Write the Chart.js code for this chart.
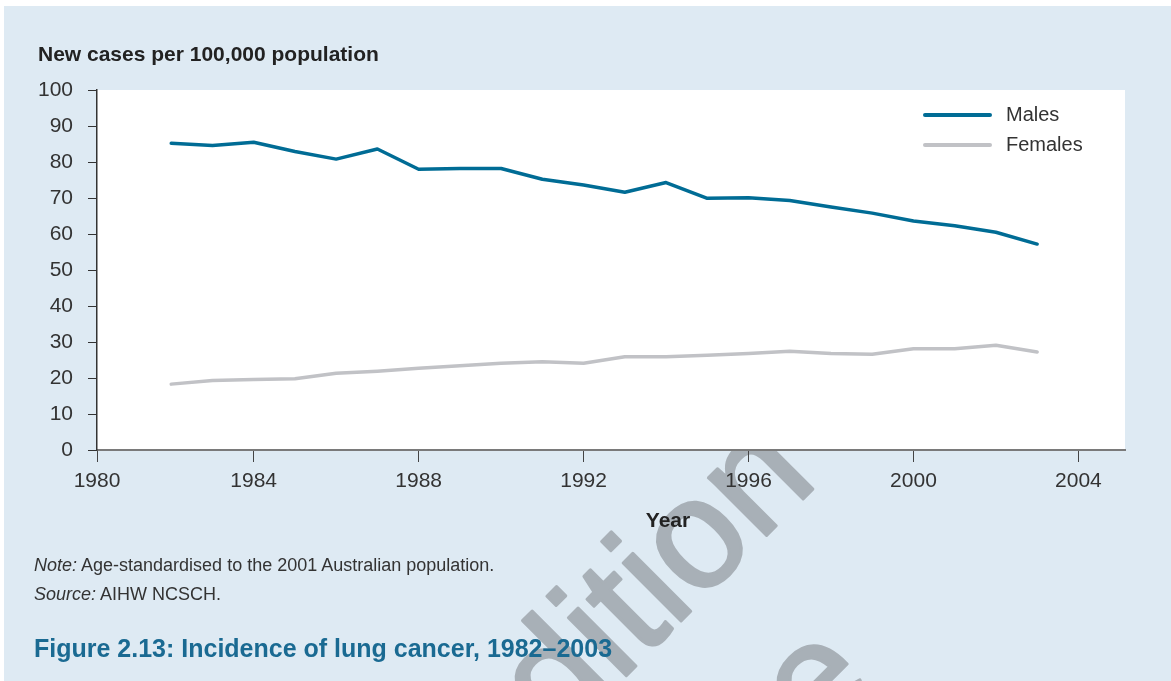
<!DOCTYPE html>
<html>
<head>
<meta charset="utf-8">
<script src="https://cdn.jsdelivr.net/npm/chart.js@4/dist/chart.umd.min.js"></script>
<style>
  html,body{margin:0;padding:0;background:#fff;width:1171px;height:681px;overflow:hidden;font-family:"Liberation Sans",Arial,Helvetica,sans-serif;}
  #panel{position:absolute;left:4px;top:6px;width:1167px;height:675px;background:#deeaf3;}
  #c{position:absolute;left:0;top:0;}
  .t{position:absolute;white-space:nowrap;color:#2b2b2b;}
  #ytitle{left:38px;top:42px;font-size:21px;font-weight:bold;color:#222;}
  #xtitle{left:668px;top:508px;transform:translateX(-50%);font-size:21px;font-weight:bold;color:#222;}
  #note{left:34px;top:555px;font-size:18px;color:#333;}
  #source{left:34px;top:584px;font-size:18px;color:#333;}
  #figtitle{left:34px;top:634px;font-size:25px;font-weight:bold;color:#1a6a92;}
  .lg{position:absolute;left:923px;width:69px;height:4px;border-radius:2px;}
  .lgt{position:absolute;left:1006px;font-size:20px;color:#333;}
</style>
</head>
<body>
<div id="panel"></div>
<canvas id="c" width="1171" height="681"></canvas>
<div class="t" id="ytitle">New cases per 100,000 population</div>
<div class="t" id="xtitle">Year</div>
<div class="t" id="note"><i>Note:</i> Age-standardised to the 2001 Australian population.</div>
<div class="t" id="source"><i>Source:</i> AIHW NCSCH.</div>
<div class="t" id="figtitle">Figure 2.13: Incidence of lung cancer, 1982–2003</div>
<div id="legend"></div>
<script>
const years = [1982,1983,1984,1985,1986,1987,1988,1989,1990,1991,1992,1993,1994,1995,1996,1997,1998,1999,2000,2001,2002,2003];
const males = [85.2,84.6,85.5,82.9,80.8,83.6,78.0,78.2,78.2,75.2,73.6,71.6,74.3,69.9,70.1,69.3,67.5,65.8,63.6,62.3,60.5,57.2];
const females = [18.3,19.3,19.6,19.8,21.3,21.9,22.7,23.4,24.1,24.5,24.1,25.9,25.9,26.3,26.8,27.4,26.8,26.6,28.1,28.1,29.1,27.2];
const seriesNames = ["Males","Females"];
const seriesColors = ["#006c95","#c1c2c6"];
const xTickYears = [1980,1984,1988,1992,1996,2000,2004];
const yTicks = [0,10,20,30,40,50,60,70,80,90,100];
const watermarkWords = ["edition","e"];

const tickFont = {family:'"Liberation Sans", Arial, Helvetica, sans-serif', size:21};

const whiteArea = {
  id:'whiteArea',
  beforeDraw(chart){
    const {ctx, chartArea:a} = chart;
    ctx.save();
    // faint diagonal watermark behind the plot area
    ctx.fillStyle = '#a8b0b7';
    ctx.strokeStyle = '#a8b0b7';
    ctx.lineWidth = 3;
    ctx.lineJoin = 'round';
    ctx.font = '155px "Liberation Sans", Arial, sans-serif';
    ctx.textBaseline = 'alphabetic';
    ctx.textAlign = 'left';
    ctx.save();
    ctx.translate(497, 805);
    ctx.rotate(-Math.PI/4);
    ctx.fillText(watermarkWords[0], 0, 0);
    ctx.strokeText(watermarkWords[0], 0, 0);
    ctx.restore();
    ctx.save();
    ctx.translate(818, 747);
    ctx.rotate(-Math.PI/4);
    ctx.fillText(watermarkWords[1], 0, 0);
    ctx.strokeText(watermarkWords[1], 0, 0);
    ctx.restore();
    ctx.fillStyle = '#ffffff';
    ctx.fillRect(a.left, a.top, a.right - a.left, a.bottom - a.top);
    ctx.restore();
  }
};

const chart = new Chart(document.getElementById('c'), {
  type:'line',
  data:{
    datasets:[
      {label:seriesNames[0], data:years.map((y,i)=>({x:y,y:males[i]})), borderColor:seriesColors[0], backgroundColor:seriesColors[0], borderWidth:3.5, pointRadius:0, tension:0, borderJoinStyle:'round', borderCapStyle:'round'},
      {label:seriesNames[1], data:years.map((y,i)=>({x:y,y:females[i]})), borderColor:seriesColors[1], backgroundColor:seriesColors[1], borderWidth:3.5, pointRadius:0, tension:0, borderJoinStyle:'round', borderCapStyle:'round'}
    ]
  },
  options:{
    responsive:false,
    animation:false,
    devicePixelRatio:1,
    layout:{padding:{left:0, top:90, right:46, bottom:151}},
    plugins:{legend:{display:false}, tooltip:{enabled:false}},
    scales:{
      x:{
        type:'linear',
        min:1980.2, max:2005.13,
        afterBuildTicks:s=>{ s.ticks = xTickYears.map(v=>({value:Math.max(v, s.min)})); },
        afterFit:s=>{ s.height = 80; },
        ticks:{font:tickFont, color:'#333', padding:7, maxRotation:0, autoSkip:false,
               callback:(v,i)=>String(xTickYears[i])},
        grid:{drawOnChartArea:false, drawTicks:true, tickLength:12, color:'#444', lineWidth:1},
        border:{color:'#7a7a7a', width:2}
      },
      y:{
        min:0, max:100,
        afterBuildTicks:s=>{ s.ticks = yTicks.map(v=>({value:v})); },
        afterFit:s=>{ s.width = 97; },
        ticks:{font:tickFont, color:'#333', padding:15, callback:v=>String(v)},
        grid:{drawOnChartArea:false, drawTicks:true, tickLength:9, color:'#333', lineWidth:1},
        border:{color:'#333', width:1.5}
      }
    }
  },
  plugins:[whiteArea]
});

// HTML legend built from datasets
const lg = document.getElementById('legend');
chart.data.datasets.forEach((d,i)=>{
  const top = 113 + i*30;
  const line = document.createElement('div');
  line.className='lg'; line.style.top = top+'px'; line.style.background = d.borderColor;
  const txt = document.createElement('div');
  txt.className='lgt'; txt.style.top = (top-10)+'px'; txt.textContent = d.label;
  lg.appendChild(line); lg.appendChild(txt);
});
</script>
</body>
</html>
